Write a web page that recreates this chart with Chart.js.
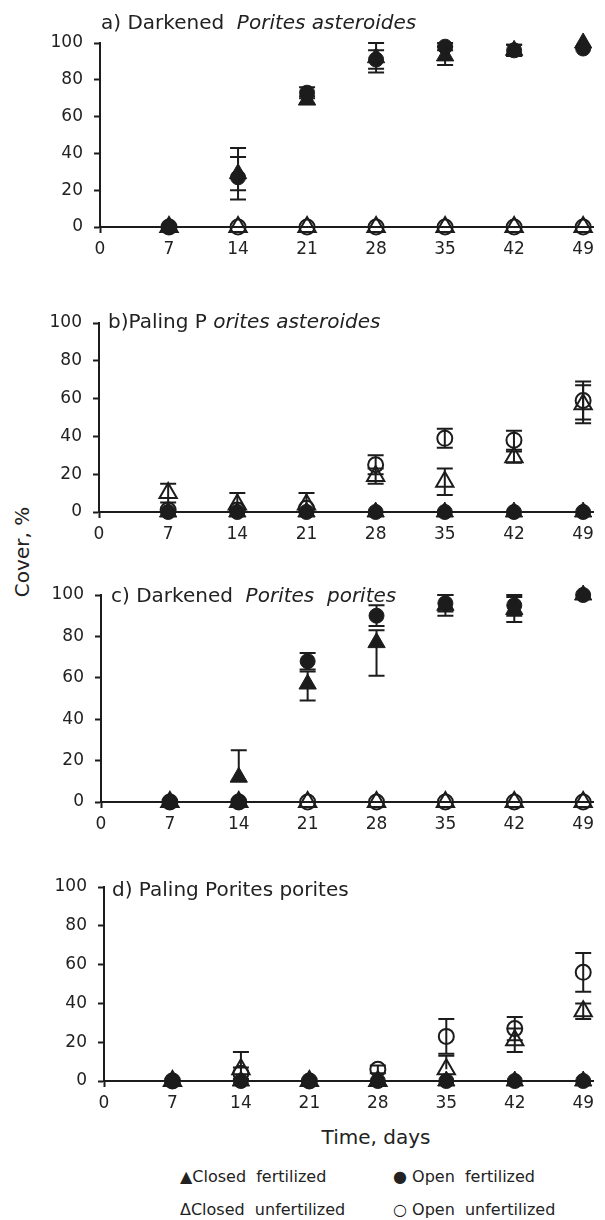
<!DOCTYPE html>
<html><head><meta charset="utf-8">
<script src="https://cdn.jsdelivr.net/npm/chart.js@4.4.0/dist/chart.umd.min.js"></script>
<style>
html,body{margin:0;padding:0;background:#fff;}
#wrap{position:relative;width:605px;height:1220px;overflow:hidden;font-family:"DejaVu Sans",sans-serif;color:#222;}
canvas{position:absolute;left:0;}
.t{position:absolute;white-space:pre;font-size:20px;line-height:20px;z-index:2;}
.t i{font-style:italic;}
.lab{position:absolute;white-space:pre;font-size:20px;line-height:20px;}
.leg{position:absolute;white-space:pre;font-size:16px;line-height:16px;}
</style></head><body><div id="wrap">
<div class="t" style="left:101px;top:12px;">a) Darkened  <i>Porites asteroides</i></div>
<div class="t" style="left:108px;top:311px;">b)Paling P <i>orites asteroides</i></div>
<div class="t" style="left:111px;top:585px;">c) Darkened  <i>Porites  porites</i></div>
<div class="t" style="left:112px;top:879px;">d) Paling Porites porites</div>
<div class="lab" style="left:22px;top:552px;transform:translate(-50%,-50%) rotate(-90deg);">Cover, %</div>
<div class="lab" style="left:376px;top:1127px;transform:translateX(-50%);">Time, days</div>
<div class="leg" style="left:180px;top:1169px;">▲Closed  fertilized</div>
<div class="leg" style="left:393px;top:1169px;">● Open  fertilized</div>
<div class="leg" style="left:180px;top:1202px;">ΔClosed  unfertilized</div>
<div class="leg" style="left:393px;top:1202px;">○ Open  unfertilized</div>
</div>
<script>
// ---- data ----
const days = [7, 14, 21, 28, 35, 42, 49];
const xTicks = [0, 7, 14, 21, 28, 35, 42, 49];
const yTicks = [0, 20, 40, 60, 80, 100];
const seriesNames = ["Closed fertilized", "Open fertilized", "Closed unfertilized", "Open unfertilized"];

// a) Darkened Porites asteroides
const aClosedFert    = [0, 29, 69, 92, 93, 96, 100];
const aClosedFertErr = [0, 14, 2, 8, 5, 3, 0];
const aOpenFert      = [0, 27, 73, 91, 98, 96, 97];
const aOpenFertErr   = [0, [11, 7], 3, 5, 2, 3, 0];
const aClosedUnf     = [0, 0, 0, 0, 0, 0, 0];
const aClosedUnfErr  = [0, 0, 0, 0, 0, 0, 0];
const aOpenUnf       = [0, 0, 0, 0, 0, 0, 0];
const aOpenUnfErr    = [0, 0, 0, 0, 0, 0, 0];

// b) Paling Porites asteroides
const bClosedFert    = [0, 0, 0, 0, 0, 0, 0];
const bClosedFertErr = [0, 0, 0, 0, 0, 0, 0];
const bOpenFert      = [0, 0, 0, 0, 0, 0, 0];
const bOpenFertErr   = [0, 0, 0, 0, 0, 0, 0];
const bClosedUnf     = [10, 4, 4, 19, 16, 29, 57];
const bClosedUnfErr  = [5, 6, 6, 4, 7, 3, 10];
const bOpenUnf       = [1, 1, 2, 25, 39, 38, 59];
const bOpenUnfErr    = [0, 0, 0, 5, 5, 5, 10];

// c) Darkened Porites porites
const cClosedFert    = [0, 12, 57, 77, 95, 93, 100];
const cClosedFertErr = [0, 13, [6, 8], [6, 16], 5, 6, 0];
const cOpenFert      = [0, 0, 68, 90, 96, 95, 100];
const cOpenFertErr   = [0, 0, 4, 5, 4, 5, 0];
const cClosedUnf     = [0, 0, 0, 0, 0, 0, 0];
const cClosedUnfErr  = [0, 0, 0, 0, 0, 0, 0];
const cOpenUnf       = [0, 0, 0, 0, 0, 0, 0];
const cOpenUnfErr    = [0, 0, 0, 0, 0, 0, 0];

// d) Paling Porites porites
const dClosedFert    = [0, 0, 0, 0, 0, 0, 0];
const dClosedFertErr = [0, 0, 0, 0, 0, 0, 0];
const dOpenFert      = [0, 0, 0, 0, 0, 0, 0];
const dOpenFertErr   = [0, 0, 0, 0, 0, 0, 0];
const dClosedUnf     = [0, 6, 0, 0, 6, 21, 36];
const dClosedUnfErr  = [0, 9, 0, 0, 7, 6, 4];
const dOpenUnf       = [0, 4, 0, 6, 23, 27, 56];
const dOpenUnfErr    = [0, 3, 0, 2, 9, 6, 10];

// ---- layout (pixels) ----
const panels = [
  {plotTop: 43,  plotBottom: 227,  left: 100, right: 594, series: [[aClosedFert, aClosedFertErr], [aOpenFert, aOpenFertErr], [aClosedUnf, aClosedUnfErr], [aOpenUnf, aOpenUnfErr]]},
  {plotTop: 323, plotBottom: 512,  left: 99,  right: 600, series: [[bClosedFert, bClosedFertErr], [bOpenFert, bOpenFertErr], [bClosedUnf, bClosedUnfErr], [bOpenUnf, bOpenUnfErr]]},
  {plotTop: 595, plotBottom: 802,  left: 101, right: 601, series: [[cClosedFert, cClosedFertErr], [cOpenFert, cOpenFertErr], [cClosedUnf, cClosedUnfErr], [cOpenUnf, cOpenUnfErr]]},
  {plotTop: 887, plotBottom: 1081, left: 104, right: 605, series: [[dClosedFert, dClosedFertErr], [dOpenFert, dOpenFertErr], [dClosedUnf, dClosedUnfErr], [dOpenUnf, dOpenUnfErr]]}
];
const INK = '#1c1c1c';
const FONT = '"DejaVu Sans", sans-serif';
const styles = [
  {pointStyle: 'triangle', radius: 10, fill: true},
  {pointStyle: 'circle', radius: 7.5, fill: true},
  {pointStyle: 'triangle', radius: 10, fill: false},
  {pointStyle: 'circle', radius: 7.5, fill: false}
];

const errorBars = {
  id: 'errorBars',
  afterDatasetsDraw(chart) {
    const {ctx} = chart; const x = chart.scales.x, y = chart.scales.y;
    const cap = 8;
    ctx.save(); ctx.strokeStyle = INK; ctx.lineWidth = 2;
    chart.data.datasets.forEach((ds) => {
      ds.data.forEach(p => {
        const e = p.err; if (!e) return;
        const hi = Array.isArray(e) ? e[0] : e, lo = Array.isArray(e) ? e[1] : e;
        const px = x.getPixelForValue(p.x), yc = y.getPixelForValue(p.y);
        ctx.beginPath();
        if (hi) { const yh = y.getPixelForValue(p.y + hi); ctx.moveTo(px, yc); ctx.lineTo(px, yh); ctx.moveTo(px - cap, yh); ctx.lineTo(px + cap, yh); }
        if (lo && p.y - lo > 0) { const yl = y.getPixelForValue(p.y - lo); ctx.moveTo(px, yc); ctx.lineTo(px, yl); ctx.moveTo(px - cap, yl); ctx.lineTo(px + cap, yl); }
        ctx.stroke();
      });
    });
    ctx.restore();
  }
};

const wrap = document.getElementById('wrap');
panels.forEach((P) => {
  const canvasTop = P.plotTop - 24;
  const canvasH = (P.plotBottom - canvasTop) + 46;
  const cv = document.createElement('canvas');
  cv.width = 605; cv.height = canvasH;
  cv.style.top = canvasTop + 'px'; cv.style.width = '605px'; cv.style.height = canvasH + 'px';
  wrap.appendChild(cv);
  const datasets = P.series.map((s, i) => ({
    label: seriesNames[i],
    data: days.map((d, j) => ({x: d, y: s[0][j], err: s[1][j]})),
    pointStyle: styles[i].pointStyle,
    pointRadius: styles[i].radius,
    pointHoverRadius: styles[i].radius,
    backgroundColor: styles[i].fill ? INK : 'rgba(0,0,0,0)',
    borderColor: INK,
    borderWidth: styles[i].fill ? 1 : 2,
    showLine: false,
    clip: false
  }));
  new Chart(cv, {
    type: 'scatter',
    data: {datasets},
    plugins: [errorBars],
    options: {
      responsive: false, animation: false, devicePixelRatio: 1,
      layout: {padding: {top: P.plotTop - canvasTop, right: 605 - P.right, left: 0, bottom: 0}},
      plugins: {legend: {display: false}, tooltip: {enabled: false}},
      scales: {
        x: {
          type: 'linear', min: 0, max: 50,
          afterBuildTicks: s => { s.ticks = xTicks.map(v => ({value: v})); },
          afterFit: s => { s.height = canvasH - (P.plotBottom - canvasTop); s.paddingLeft = 0; s.paddingRight = 0; },
          grid: {drawOnChartArea: false, drawTicks: true, tickLength: 6, tickWidth: 2,
                 tickColor: c => (c.tick && c.tick.value === 0) ? INK : 'rgba(0,0,0,0)'},
          border: {display: true, color: INK, width: 2},
          ticks: {padding: 6, color: '#222', font: {family: FONT, size: 17}, maxRotation: 0, autoSkip: false}
        },
        y: {
          type: 'linear', min: 0, max: 100,
          afterBuildTicks: s => { s.ticks = yTicks.map(v => ({value: v})); },
          afterFit: s => { s.width = P.left; s.paddingTop = 0; s.paddingBottom = 0; },
          grid: {drawOnChartArea: false, drawTicks: true, tickLength: 6, tickWidth: 2, tickColor: INK},
          border: {display: true, color: INK, width: 2},
          ticks: {padding: 11, color: '#222', font: {family: FONT, size: 17}}
        }
      }
    }
  });
});
</script>
</body></html>
